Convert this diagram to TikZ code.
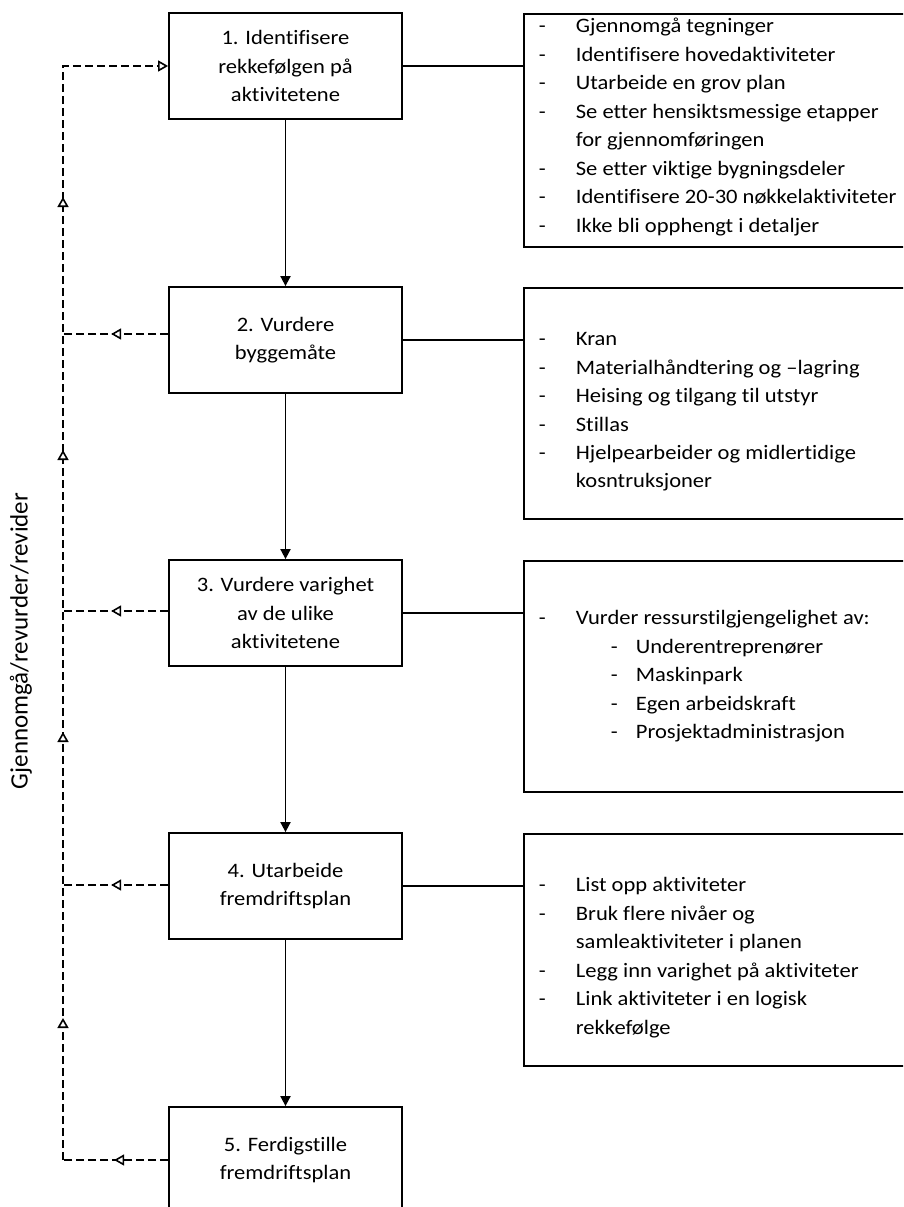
\documentclass[tikz,border=0pt]{standalone}
\usepackage{fontspec}
\setmainfont{Carlito}[Ligatures=NoCommon, FakeStretch=1.1]
\newfontfamily\labelfont{Carlito}[Ligatures=NoCommon]
\usetikzlibrary{arrows.meta,decorations.markings,calc}

% text block of a side box: height, first baseline offset, line pitch, lines
\newcommand{\rlist}[4]{\parbox[b][#1pt][t]{385pt}{\fontsize{20.5}{#3pt}\selectfont
  \lineskiplimit=-50pt\vspace*{\dimexpr#2pt-20pt\relax}#4\par}}
\newcommand{\li}[1]{\par\noindent\rule{0pt}{20pt}\hspace*{15pt}\makebox[37pt][l]{-}#1}
\newcommand{\lc}[1]{\par\noindent\rule{0pt}{20pt}\hspace*{52pt}#1}
\newcommand{\lii}[1]{\par\noindent\rule{0pt}{20pt}\hspace*{87pt}\makebox[25pt][l]{-}#1}

\tikzset{
  x=1pt, y=1pt,
  txt/.style={font=\fontsize{20.5}{28.3}\selectfont},
  stepbox/.style={draw, line width=1.8pt, txt, align=center, inner sep=0pt,
    minimum width=233pt, minimum height=106pt},
  rbox/.style={draw, line width=1.8pt, inner sep=0pt, anchor=north west},
  link/.style={line width=1.8pt},
  flow/.style={line width=1.8pt, -{Triangle[length=10pt,width=10pt]}},
  fb/.style={line width=1.6pt, dash pattern=on 8pt off 4pt},
  otip/.tip={Triangle[fill=white,length=10pt,width=11pt,line width=1.6pt]},
  midtip/.style={postaction={decorate,decoration={markings,
    mark=at position #1 with {\arrow{otip}}}}},
  uptips/.style={postaction={decorate,decoration={markings,
    mark=at position 142pt with {\arrow{otip}},
    mark=at position 428pt with {\arrow{otip}},
    mark=at position 710pt with {\arrow{otip}},
    mark=at position 963pt with {\arrow{otip}}}}}
}

\begin{document}
\begin{tikzpicture}
\useasboundingbox (0,0) rectangle (903,-1207);
\clip (0,0) rectangle (903,-1207);

% main steps
\node[stepbox] (B1) at (285.5,-66)   {1. Identifisere\\rekkefølgen på\\aktivitetene};
\node[stepbox] (B2) at (285.5,-340)  {2. Vurdere\\byggemåte};
\node[stepbox] (B3) at (285.5,-613)  {3. Vurdere varighet\\av de ulike\\aktivitetene};
\node[stepbox] (B4) at (285.5,-886)  {4. Utarbeide\\fremdriftsplan};
\node[stepbox] (B5) at (285.5,-1160) {5. Ferdigstille\\fremdriftsplan};

% side boxes with details
\node[rbox] (A) at (523,-13) {\rlist{233}{19}{28.5}{%
  \li{Gjennomgå tegninger}
  \li{Identifisere hovedaktiviteter}
  \li{Utarbeide en grov plan}
  \li{Se etter hensiktsmessige etapper}
  \lc{for gjennomføringen}
  \li{Se etter viktige bygningsdeler}
  \li{Identifisere 20-30 nøkkelaktiviteter}
  \li{Ikke bli opphengt i detaljer}}};
\node[rbox] (B) at (523,-287) {\rlist{231}{58}{28.4}{%
  \li{Kran}
  \li{Materialhåndtering og –lagring}
  \li{Heising og tilgang til utstyr}
  \li{Stillas}
  \li{Hjelpearbeider og midlertidige}
  \lc{kosntruksjoner}}};
\node[rbox] (C) at (523,-560) {\rlist{231}{64}{28.5}{%
  \li{Vurder ressurstilgjengelighet av:}
  \lii{Underentreprenører}
  \lii{Maskinpark}
  \lii{Egen arbeidskraft}
  \lii{Prosjektadministrasjon}}};
\node[rbox] (D) at (523,-833) {\rlist{232}{58}{28.5}{%
  \li{List opp aktiviteter}
  \li{Bruk flere nivåer og}
  \lc{samleaktiviteter i planen}
  \li{Legg inn varighet på aktiviteter}
  \li{Link aktiviteter i en logisk}
  \lc{rekkefølge}}};

% flow between steps
\draw[flow] (B1.south) -- (B2.north);
\draw[flow] (B2.south) -- (B3.north);
\draw[flow] (B3.south) -- (B4.north);
\draw[flow] (B4.south) -- (B5.north);

% links to side boxes
\draw[link] (B1.east) -- (B1.east -| A.west);
\draw[link] (B2.east) -- (B2.east -| B.west);
\draw[link] (B3.east) -- (B3.east -| C.west);
\draw[link] (B4.east) -- (B4.east -| D.west);

% feedback loop
\coordinate (L1) at (63,-66);
\coordinate (L2) at (63,-334);
\coordinate (L3) at (63,-611);
\coordinate (L4) at (63,-885);
\coordinate (L5) at (63,-1160);
\draw[fb, midtip=57pt] (B2.west |- L2) -- (L2);
\draw[fb, midtip=57pt] (B3.west |- L3) -- (L3);
\draw[fb, midtip=57pt] (B4.west |- L4) -- (L4);
\draw[fb, midtip=54pt] (B5.west |- L5) -- (L5);
\draw[fb, uptips, -otip] (L5) -- (L1) -- (B1.west);

\node[font=\labelfont\fontsize{25}{30}\selectfont, rotate=90] (lbl) at (21,-641) {Gjennomgå/revurder/revider};
\end{tikzpicture}
\end{document}
